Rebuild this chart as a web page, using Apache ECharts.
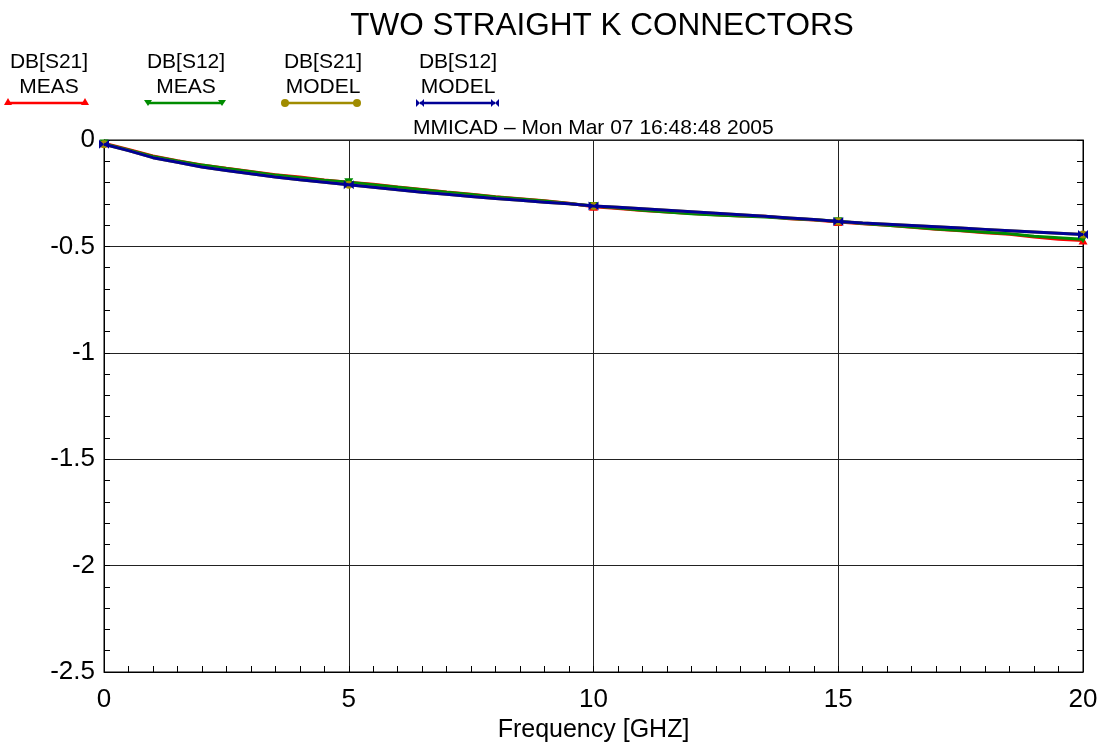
<!DOCTYPE html>
<html><head><meta charset="utf-8">
<script src="https://cdn.jsdelivr.net/npm/echarts@6/dist/echarts.min.js"></script>
<style>html,body{margin:0;padding:0;background:#fff}#c{width:1106px;height:743px}</style>
</head><body><div id="c"></div>
<script>
const freqGHz = [0,0.5,1,1.5,2,2.5,3,3.5,4,4.5,5,5.5,6,6.5,7,7.5,8,8.5,9,9.5,10,10.5,11,11.5,12,12.5,13,13.5,14,14.5,15,15.5,16,16.5,17,17.5,18,18.5,19,19.5,20];
const s21Meas = [-0.015,-0.045,-0.075,-0.097,-0.117,-0.133,-0.148,-0.163,-0.174,-0.188,-0.198,-0.208,-0.221,-0.232,-0.244,-0.255,-0.267,-0.276,-0.285,-0.297,-0.314,-0.322,-0.331,-0.338,-0.345,-0.351,-0.357,-0.358,-0.37,-0.376,-0.385,-0.393,-0.401,-0.41,-0.42,-0.426,-0.436,-0.443,-0.456,-0.466,-0.472];
const s12Meas = [-0.017,-0.047,-0.077,-0.099,-0.118,-0.134,-0.149,-0.165,-0.177,-0.189,-0.198,-0.21,-0.222,-0.234,-0.246,-0.256,-0.268,-0.277,-0.287,-0.298,-0.31,-0.32,-0.33,-0.338,-0.347,-0.352,-0.357,-0.362,-0.369,-0.375,-0.382,-0.392,-0.401,-0.409,-0.418,-0.425,-0.434,-0.441,-0.452,-0.459,-0.466];
const s21Model = [-0.02,-0.05,-0.083,-0.105,-0.127,-0.143,-0.159,-0.174,-0.187,-0.198,-0.21,-0.222,-0.234,-0.245,-0.255,-0.265,-0.275,-0.283,-0.292,-0.3,-0.31,-0.316,-0.323,-0.33,-0.337,-0.344,-0.351,-0.358,-0.366,-0.374,-0.383,-0.39,-0.396,-0.402,-0.408,-0.414,-0.42,-0.426,-0.432,-0.438,-0.444];
const s12Model = [-0.02,-0.05,-0.083,-0.105,-0.127,-0.143,-0.159,-0.174,-0.187,-0.198,-0.21,-0.222,-0.234,-0.245,-0.255,-0.265,-0.275,-0.283,-0.292,-0.3,-0.31,-0.316,-0.323,-0.33,-0.337,-0.344,-0.351,-0.358,-0.366,-0.374,-0.383,-0.39,-0.396,-0.402,-0.408,-0.414,-0.42,-0.426,-0.432,-0.438,-0.444];
const markerFreqs = [0,5,10,15,20];
const legendRow1 = ['DB[S21]','DB[S12]','DB[S21]','DB[S12]'];
const legendRow2 = ['MEAS','MEAS','MODEL','MODEL'];

const FONT = '"Liberation Sans", Arial, sans-serif';
const COLORS = ['#ff0000','#008c00','#a08c00','#000096'];
const BOWTIE = 'path://M0,0 L10,5 L0,10 Z M20,0 L10,5 L20,10 Z';
const SYMBOLS = ['triangle','path://M0,0 L20,0 L10,17 Z','circle',BOWTIE];
const SIZES = [[9,8],[9,8],[8,8],[10,9]];

function build(vals, k){
  return freqGHz.map((f,i)=>{
    const item = {value:[f, vals[i]]};
    item.symbol = markerFreqs.indexOf(f) >= 0 ? SYMBOLS[k] : 'none';
    return item;
  });
}
const seriesVals = [s21Meas, s12Meas, s21Model, s12Model];
const names = ['DB[S21] MEAS','DB[S12] MEAS','DB[S21] MODEL','DB[S12] MODEL'];
const series = seriesVals.map((v,k)=>({
  type:'line', name:names[k], data:build(v,k), showSymbol:true,
  symbolSize:SIZES[k], lineStyle:{color:COLORS[k], width:3},
  itemStyle:{color:COLORS[k]}, silent:true, animation:false, z:2+k
}));

// Legend drawn as graphic (text above, line with end markers below)
const legCX = [49,186,323,458];
const legLines = [[8,85],[148,222],[285,357],[420,495]];
const lineY = 103;
const graphic = [];
legCX.forEach((cx,k)=>{
  graphic.push({type:'text', x:cx, y:62, style:{text:legendRow1[k], font:'21px '+FONT, fill:'#000', align:'center', verticalAlign:'middle', textAlign:'center', textVerticalAlign:'middle'}});
  graphic.push({type:'text', x:cx, y:87, style:{text:legendRow2[k], font:'21px '+FONT, fill:'#000', align:'center', verticalAlign:'middle', textAlign:'center', textVerticalAlign:'middle'}});
});
legLines.forEach(([a,b],k)=>{
  graphic.push({type:'line', shape:{x1:a,y1:lineY,x2:b,y2:lineY}, style:{stroke:COLORS[k], lineWidth:2.5}});
  [a,b].forEach(x=>{
    if(k===0) graphic.push({type:'polygon', shape:{points:[[x,lineY-5],[x-4,lineY+2],[x+4,lineY+2]]}, style:{fill:COLORS[k]}});
    if(k===1) graphic.push({type:'polygon', shape:{points:[[x,lineY+3],[x-4,lineY-3],[x+4,lineY-3]]}, style:{fill:COLORS[k]}});
    if(k===2) graphic.push({type:'circle', shape:{cx:x,cy:lineY,r:4}, style:{fill:COLORS[k]}});
    if(k===3) graphic.push({type:'polygon', shape:{points:[[x-4,lineY-4],[x+4,lineY+4],[x+4,lineY-4],[x-4,lineY+4]]}, style:{fill:COLORS[k]}});
  });
});

const chart = echarts.init(document.getElementById('c'), null, {renderer:'canvas'});
chart.setOption({
  backgroundColor:'#fff',
  animation:false,
  title:[{text:'TWO STRAIGHT K CONNECTORS', left:597, top:5, textAlign:'center',
          textStyle:{fontFamily:FONT, fontSize:31.5, fontWeight:'normal', color:'#000'}},
         {text:'MMICAD \u2013 Mon Mar 07 16:48:48 2005', left:408, top:113,
          textStyle:{fontFamily:FONT, fontSize:21, fontWeight:'normal', color:'#000'}}],
  legend:{show:false, data:names},
  grid:{left:104, right:23, top:140, bottom:71, show:true, borderColor:'#000', borderWidth:1,
        containLabel:false, outerBoundsMode:'none'},
  xAxis:{type:'value', min:0, max:20, interval:5,
    axisLine:{onZero:false, lineStyle:{color:'#000', width:1}},
    axisTick:{show:true, inside:true, length:6, lineStyle:{color:'#000'}},
    minorTick:{show:true, splitNumber:10, length:6, lineStyle:{color:'#000'}},
    splitLine:{show:true, lineStyle:{color:'#222', width:1}},
    axisLabel:{fontFamily:FONT, fontSize:26, color:'#000', margin:15},
    name:'Frequency [GHZ]', nameLocation:'middle', nameGap:43,
    nameTextStyle:{fontFamily:FONT, fontSize:25, color:'#000'}},
  yAxis:[{type:'value', min:-2.5, max:0, interval:0.5,
    axisLine:{show:true, onZero:false, lineStyle:{color:'#000', width:1}},
    axisTick:{show:true, inside:true, length:6, lineStyle:{color:'#000'}},
    minorTick:{show:true, splitNumber:5, length:6, lineStyle:{color:'#000'}},
    splitLine:{show:true, lineStyle:{color:'#222', width:1}},
    axisLabel:{fontFamily:FONT, fontSize:26, color:'#000', margin:9, formatter:v=>String(v)}},
   {type:'value', min:-2.5, max:0, interval:0.5, position:'right',
    axisLine:{show:true, onZero:false, lineStyle:{color:'#000', width:1}},
    axisTick:{show:true, inside:true, length:6, lineStyle:{color:'#000'}},
    minorTick:{show:true, splitNumber:5, length:6, lineStyle:{color:'#000'}},
    splitLine:{show:false}, axisLabel:{show:false}}],
  series: series,
  graphic: graphic
});
</script></body></html>
